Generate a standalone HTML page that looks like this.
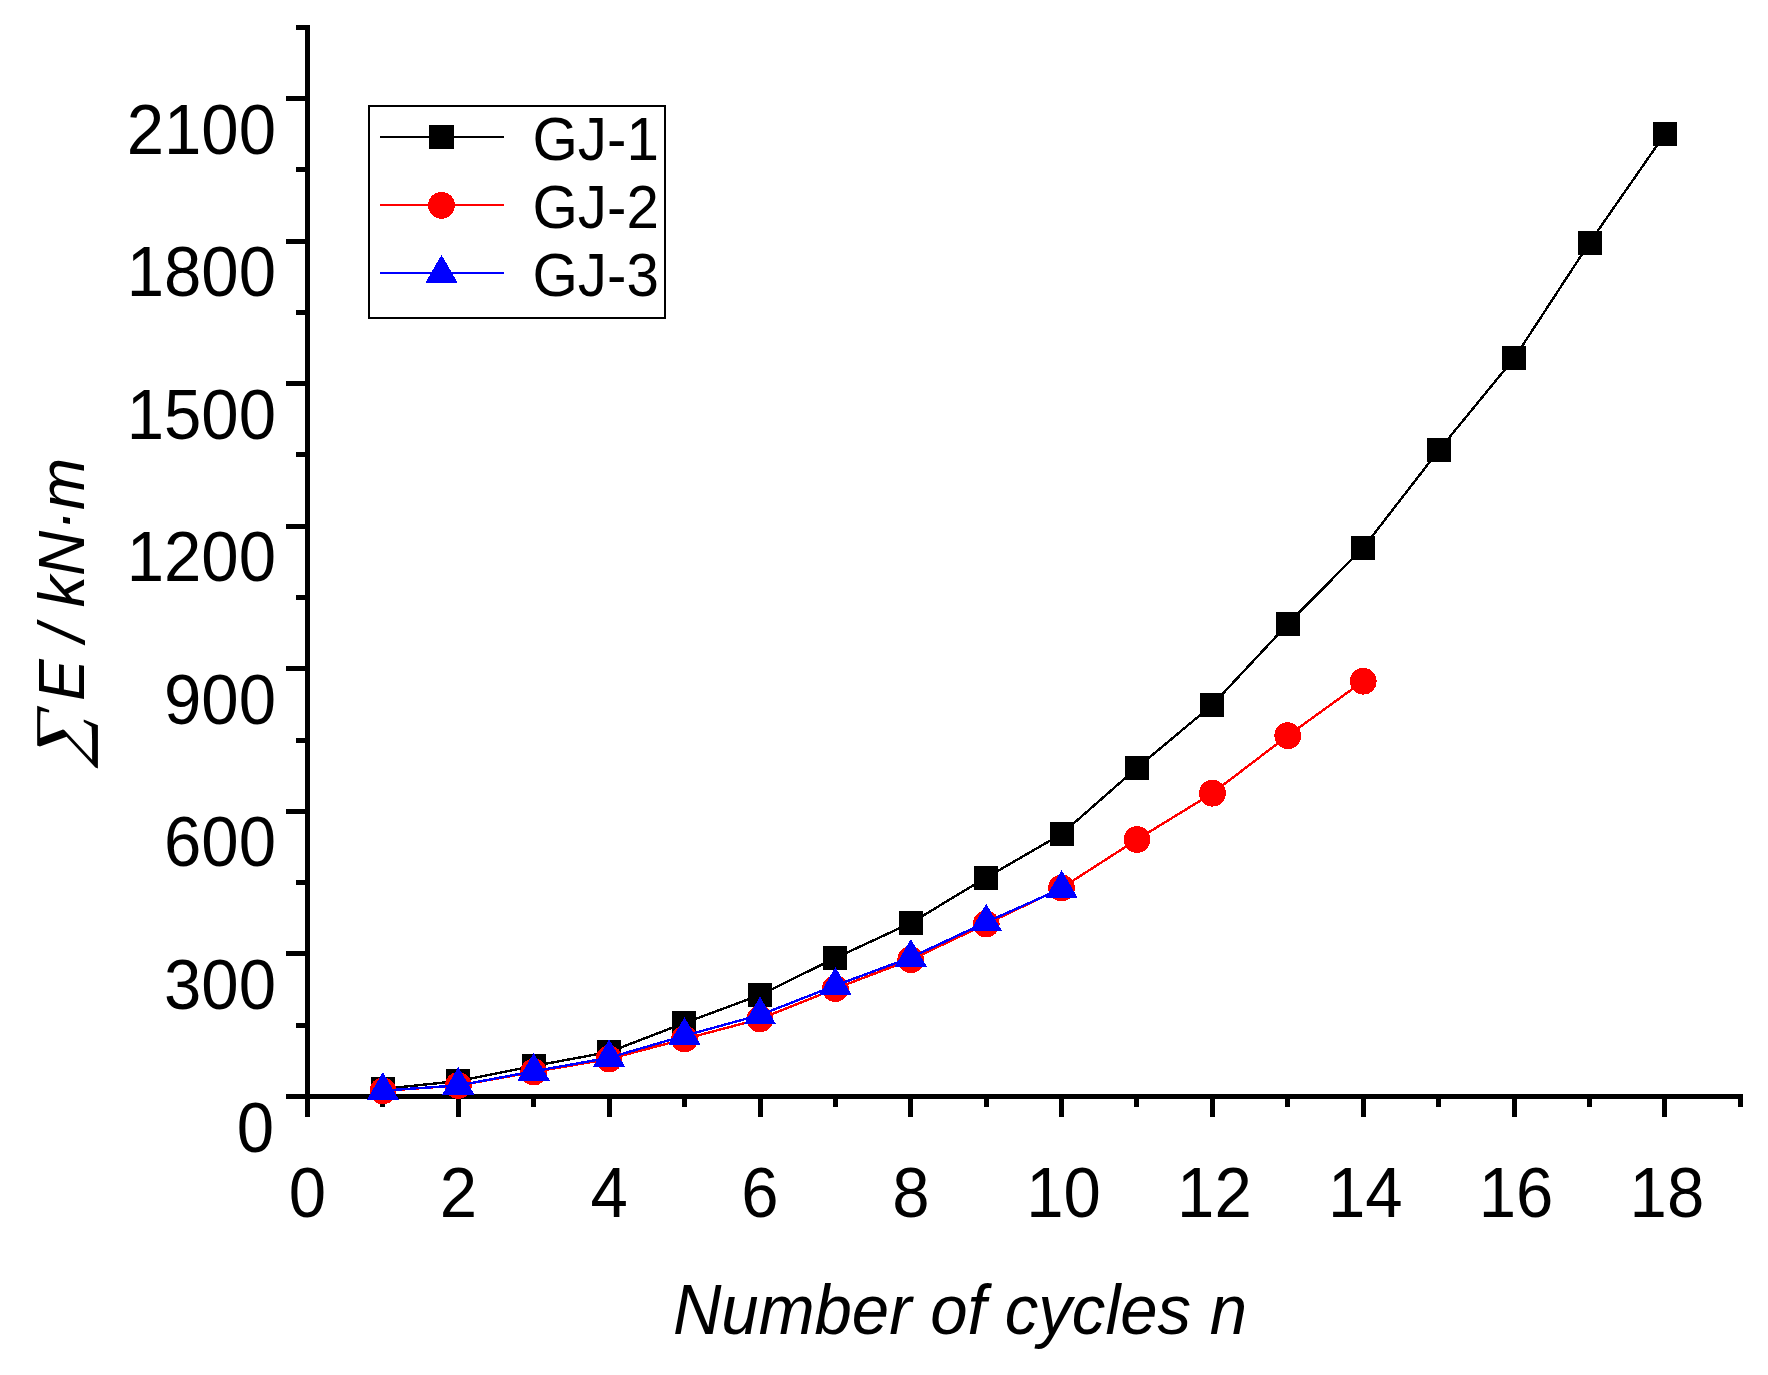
<!DOCTYPE html>
<html lang="en"><head><meta charset="utf-8"><title>Cumulative energy dissipation</title>
<style>
html,body{margin:0;padding:0;background:#fff;}
body{width:1768px;height:1375px;overflow:hidden;}
svg{display:block;}
text{font-family:"Liberation Sans",Arial,sans-serif;fill:#000;}
.tk{font-size:67.1px;}
.lg{font-size:58.3px;}
.it{font-style:italic;}
.sig{font-family:"Liberation Serif","DejaVu Serif",serif;font-style:italic;}
</style></head><body>
<svg width="1768" height="1375" viewBox="0 0 1768 1375">
<rect width="1768" height="1375" fill="#fff"/>

<g fill="#000" shape-rendering="crispEdges">
<rect x="305" y="25" width="5" height="1092"/>
<rect x="286" y="1094" width="1457" height="5"/>
<rect x="286" y="951" width="20" height="5"/>
<rect x="286" y="809" width="20" height="5"/>
<rect x="286" y="666" width="20" height="5"/>
<rect x="286" y="524" width="20" height="5"/>
<rect x="286" y="381" width="20" height="5"/>
<rect x="286" y="239" width="20" height="5"/>
<rect x="286" y="96" width="20" height="5"/>
<rect x="296" y="1023" width="10" height="5"/>
<rect x="296" y="880" width="10" height="5"/>
<rect x="296" y="738" width="10" height="5"/>
<rect x="296" y="595" width="10" height="5"/>
<rect x="296" y="452" width="10" height="5"/>
<rect x="296" y="310" width="10" height="5"/>
<rect x="296" y="167" width="10" height="5"/>
<rect x="296" y="25" width="10" height="5"/>
<rect x="456" y="1098" width="5" height="19"/>
<rect x="607" y="1098" width="5" height="19"/>
<rect x="758" y="1098" width="5" height="19"/>
<rect x="908" y="1098" width="5" height="19"/>
<rect x="1059" y="1098" width="5" height="19"/>
<rect x="1210" y="1098" width="5" height="19"/>
<rect x="1361" y="1098" width="5" height="19"/>
<rect x="1512" y="1098" width="5" height="19"/>
<rect x="1662" y="1098" width="5" height="19"/>
<rect x="380" y="1098" width="5" height="9"/>
<rect x="531" y="1098" width="5" height="9"/>
<rect x="682" y="1098" width="5" height="9"/>
<rect x="833" y="1098" width="5" height="9"/>
<rect x="984" y="1098" width="5" height="9"/>
<rect x="1134" y="1098" width="5" height="9"/>
<rect x="1285" y="1098" width="5" height="9"/>
<rect x="1436" y="1098" width="5" height="9"/>
<rect x="1587" y="1098" width="5" height="9"/>
<rect x="1738" y="1098" width="5" height="9"/>
</g>
<g class="tk" text-anchor="end">
<text transform="matrix(1 0 0 1.042 274 1151.5)">0</text>
<text transform="matrix(1 0 0 1.042 276 1008.9)">300</text>
<text transform="matrix(1 0 0 1.042 276 866.4)">600</text>
<text transform="matrix(1 0 0 1.042 276 723.8)">900</text>
<text transform="matrix(1 0 0 1.042 276 581.2)">1200</text>
<text transform="matrix(1 0 0 1.042 276 438.6)">1500</text>
<text transform="matrix(1 0 0 1.042 276 296.1)">1800</text>
<text transform="matrix(1 0 0 1.042 276 153.5)">2100</text>
</g>
<g class="tk" text-anchor="middle">
<text transform="matrix(1 0 0 1.042 307.5 1217)">0</text>
<text transform="matrix(1 0 0 1.042 458.3 1217)">2</text>
<text transform="matrix(1 0 0 1.042 609.1 1217)">4</text>
<text transform="matrix(1 0 0 1.042 760.0 1217)">6</text>
<text transform="matrix(1 0 0 1.042 910.8 1217)">8</text>
<text transform="matrix(1 0 0 1.042 1063.6 1217)">10</text>
<text transform="matrix(1 0 0 1.042 1214.4 1217)">12</text>
<text transform="matrix(1 0 0 1.042 1365.2 1217)">14</text>
<text transform="matrix(1 0 0 1.042 1516.1 1217)">16</text>
<text transform="matrix(1 0 0 1.042 1666.9 1217)">18</text>
</g>
<text class="tk it" transform="matrix(1 0 0 1.042 960 1334)" text-anchor="middle">Number of cycles n</text>
<text class="it" font-size="62.5" transform="translate(83.8,701) rotate(-90) scale(1,1.042)">E / kN·m</text>
<text class="sig" font-size="70" transform="translate(82.8,766.5) rotate(-90) skewX(-19.4) scale(1.05,1)">∑</text>
<polyline points="382.9,1089 458.3,1081 533.7,1066 609.1,1052 684.5,1023 760.0,995 835.4,958 910.8,923 986.2,877.6 1061.6,834 1137.0,767.8 1212.4,704.8 1287.8,624 1363.2,547.8 1438.6,450.5 1514.1,358.3 1589.5,242.8 1664.9,134" fill="none" stroke="#000" stroke-width="2.4" shape-rendering="crispEdges"/>
<g fill="#000" shape-rendering="crispEdges">
<rect x="371" y="1077" width="24" height="23"/>
<rect x="446" y="1069" width="24" height="24"/>
<rect x="522" y="1054" width="24" height="24"/>
<rect x="597" y="1040" width="24" height="24"/>
<rect x="672" y="1011" width="24" height="24"/>
<rect x="748" y="983" width="24" height="24"/>
<rect x="823" y="946" width="24" height="24"/>
<rect x="899" y="911" width="24" height="24"/>
<rect x="974" y="866" width="24" height="24"/>
<rect x="1050" y="822" width="24" height="24"/>
<rect x="1125" y="756" width="24" height="24"/>
<rect x="1200" y="693" width="24" height="24"/>
<rect x="1276" y="612" width="24" height="24"/>
<rect x="1351" y="536" width="24" height="24"/>
<rect x="1427" y="438" width="24" height="24"/>
<rect x="1502" y="346" width="24" height="24"/>
<rect x="1578" y="231" width="24" height="24"/>
<rect x="1653" y="122" width="24" height="24"/>
</g>
<polyline points="382.9,1090.9 458.3,1085.5 533.7,1072 609.1,1059 684.5,1039 760.0,1019 835.4,988.6 910.8,959.7 986.2,924 1061.6,888 1137.0,839.5 1212.4,793.2 1287.8,735.7 1363.2,681.2" fill="none" stroke="#f00" stroke-width="2.4" shape-rendering="crispEdges"/>
<g fill="#f00" shape-rendering="crispEdges">
<circle cx="382.9" cy="1090.9" r="13.4"/>
<circle cx="458.3" cy="1085.5" r="13.4"/>
<circle cx="533.7" cy="1072" r="13.4"/>
<circle cx="609.1" cy="1059" r="13.4"/>
<circle cx="684.5" cy="1039" r="13.4"/>
<circle cx="760.0" cy="1019" r="13.4"/>
<circle cx="835.4" cy="988.6" r="13.4"/>
<circle cx="910.8" cy="959.7" r="13.4"/>
<circle cx="986.2" cy="924" r="13.4"/>
<circle cx="1061.6" cy="888" r="13.4"/>
<circle cx="1137.0" cy="839.5" r="13.4"/>
<circle cx="1212.4" cy="793.2" r="13.4"/>
<circle cx="1287.8" cy="735.7" r="13.4"/>
<circle cx="1363.2" cy="681.2" r="13.4"/>
</g>
<polyline points="382.9,1090.6 458.3,1085.4 533.7,1071.3 609.1,1057.7 684.5,1035.7 760.0,1015 835.4,985.5 910.8,957.5 986.2,922.2 1061.6,888.5" fill="none" stroke="#00f" stroke-width="2.4" shape-rendering="crispEdges"/>
<g fill="#00f" shape-rendering="crispEdges">
<polygon points="382.9,1072.1 398.9,1099.8 366.9,1099.8"/>
<polygon points="458.3,1066.9 474.3,1094.6 442.3,1094.6"/>
<polygon points="533.7,1052.8 549.7,1080.5 517.7,1080.5"/>
<polygon points="609.1,1039.2 625.1,1066.9 593.1,1066.9"/>
<polygon points="684.5,1017.2 700.5,1044.9 668.5,1044.9"/>
<polygon points="760.0,996.5 776.0,1024.2 744.0,1024.2"/>
<polygon points="835.4,967.0 851.4,994.7 819.4,994.7"/>
<polygon points="910.8,939.0 926.8,966.7 894.8,966.7"/>
<polygon points="986.2,903.7 1002.2,931.4 970.2,931.4"/>
<polygon points="1061.6,870.0 1077.6,897.7 1045.6,897.7"/>
</g>
<rect x="369" y="106" width="295.5" height="211.5" fill="#fff" stroke="#000" stroke-width="2" shape-rendering="crispEdges"/>
<rect x="380" y="136" width="124" height="2" fill="#000" shape-rendering="crispEdges"/>
<rect x="380" y="204" width="124" height="2" fill="#f00" shape-rendering="crispEdges"/>
<rect x="380" y="272" width="124" height="2" fill="#00f" shape-rendering="crispEdges"/>
<rect x="429" y="125" width="25" height="24" fill="#000" shape-rendering="crispEdges"/>
<circle cx="441.5" cy="205.3" r="13.4" fill="#f00" shape-rendering="crispEdges"/>
<g fill="#00f" shape-rendering="crispEdges"><polygon points="441.5,254.8 457.5,282.5 425.5,282.5"/></g>
<g class="lg">
<text transform="matrix(1 0 0 1.042 532.5 160)">GJ-1</text>
<text transform="matrix(1 0 0 1.042 532.5 228)">GJ-2</text>
<text transform="matrix(1 0 0 1.042 532.5 296)">GJ-3</text>
</g>
</svg></body></html>
